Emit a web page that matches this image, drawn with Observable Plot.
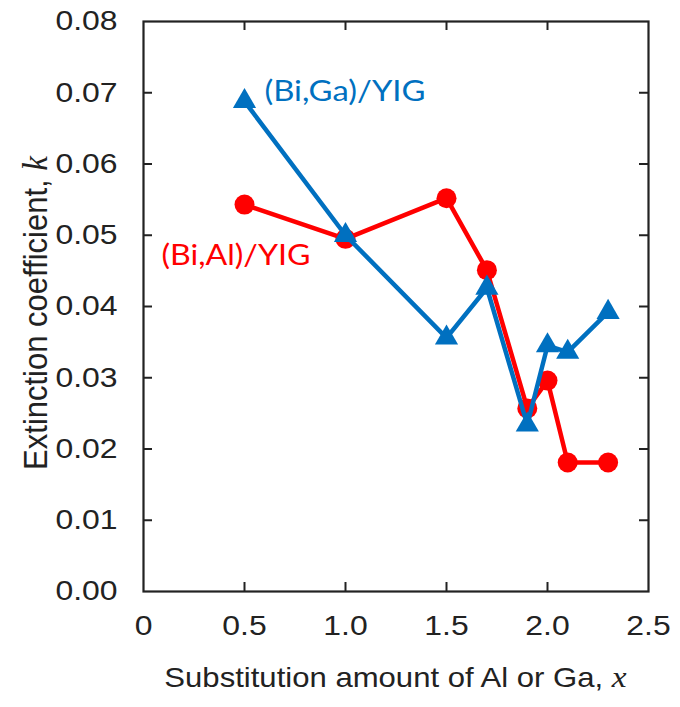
<!DOCTYPE html>
<html>
<head>
<meta charset="utf-8">
<script src="https://cdn.jsdelivr.net/npm/d3@7"></script>
<script src="https://cdn.jsdelivr.net/npm/@observablehq/plot@0.6"></script>
<style>
  body { margin: 0; background: #fff; }
  #chart svg { display: block; background: #fff; }
</style>
</head>
<body>
<div id="chart"></div>
<script>
// Extinction coefficient k of Bi-substituted YIG films vs. Al / Ga substitution amount x
const compositions = [0.5, 1.0, 1.5, 1.7, 1.9, 2.0, 2.1, 2.3];
const kBiAl = [0.0543, 0.0495, 0.0552, 0.0451, 0.0257, 0.0296, 0.0181, 0.0181];
const kBiGa = [0.0688, 0.0500, 0.0356, 0.0426, 0.0234, 0.0345, 0.0336, 0.0392];
const seriesNames = ["(Bi,Al)/YIG", "(Bi,Ga)/YIG"];
const seriesColors = ["#ff0000", "#0070c0"];

const xTicks = [0, 0.5, 1.0, 1.5, 2.0, 2.5];
const xTickLabels = ["0", "0.5", "1.0", "1.5", "2.0", "2.5"];
const yTicks = [0, 0.01, 0.02, 0.03, 0.04, 0.05, 0.06, 0.07, 0.08];
const yTickLabels = ["0.00", "0.01", "0.02", "0.03", "0.04", "0.05", "0.06", "0.07", "0.08"];

const xTitle = "Substitution amount of Al or Ga, ";
const xTitleVar = "x";
const yTitle = "Extinction coefficient, ";
const yTitleVar = "k";

// rows per series
const alRows = compositions.map((x, i) => ({x, k: kBiAl[i]}));
const gaRows = compositions.map((x, i) => ({x, k: kBiGa[i]}));

const W = 680, H = 707;
const mTop = 21, mRight = 32, mBottom = 116, mLeft = 143;
const frameW = W - mLeft - mRight, frameH = H - mTop - mBottom;
const tickLen = 9;
const axisColor = "#222";

const xInner = xTicks.slice(1, -1);
const yInner = yTicks.slice(1, -1);

const xLabelOf = new Map(xTicks.map((t, i) => [t, xTickLabels[i]]));
const yLabelOf = new Map(yTicks.map((t, i) => [t, yTickLabels[i]]));

const seriesLabels = [
  {x: compositions[1], k: kBiAl[1], name: seriesNames[0], color: seriesColors[0]},
  {x: compositions[0], k: kBiGa[0], name: seriesNames[1], color: seriesColors[1]}
];

const plot = Plot.plot({
  width: W,
  height: H,
  marginTop: mTop,
  marginRight: mRight,
  marginBottom: mBottom,
  marginLeft: mLeft,
  style: {fontFamily: "'Liberation Sans', Arial, sans-serif", fontSize: "28px", color: "#222", background: "#fff"},
  x: {domain: [0, 2.5]},
  y: {domain: [0, 0.08]},
  marks: [
    // inward tick marks on all four sides
    Plot.ruleX(xInner, {x: d => d, stroke: axisColor, strokeWidth: 2, insetTop: frameH - tickLen}),
    Plot.ruleX(xInner, {x: d => d, stroke: axisColor, strokeWidth: 2, insetBottom: frameH - tickLen}),
    Plot.ruleY(yInner, {y: d => d, stroke: axisColor, strokeWidth: 2, insetRight: frameW - tickLen}),
    Plot.ruleY(yInner, {y: d => d, stroke: axisColor, strokeWidth: 2, insetLeft: frameW - tickLen}),
    Plot.frame({stroke: axisColor, strokeWidth: 2.2}),

    // (Bi,Al)/YIG
    Plot.line(alRows, {x: "x", y: "k", stroke: seriesColors[0], strokeWidth: 4.5}),
    Plot.dot(alRows, {x: "x", y: "k", r: 10, fill: seriesColors[0], symbol: "circle"}),

    // (Bi,Ga)/YIG
    Plot.line(gaRows, {x: "x", y: "k", stroke: seriesColors[1], strokeWidth: 4.5}),
    Plot.dot(gaRows, {x: "x", y: "k", r: 8.6, fill: seriesColors[1], symbol: "triangle"}),

    // series names
    Plot.text([seriesLabels[0]], {
      x: "x", y: "k", text: "name", fill: "color", textAnchor: "end",
      dx: -35, dy: 17, fontSize: 28, fontFamily: "Lato, 'Open Sans', sans-serif", className: "series-name al"
    }),
    Plot.text([seriesLabels[1]], {
      x: "x", y: "k", text: "name", fill: "color", textAnchor: "start",
      dx: 20, dy: -9, fontSize: 28, fontFamily: "Lato, 'Open Sans', sans-serif", className: "series-name ga"
    }),

    Plot.axisX({ticks: xTicks, tickSize: 0, tickPadding: 24, tickFormat: d => xLabelOf.get(d), label: null, fill: "#222"}),
    Plot.axisY({ticks: yTicks, tickSize: 0, tickPadding: 26, tickFormat: d => yLabelOf.get(d), label: null, fill: "#222"})
  ]
});

document.getElementById("chart").append(plot);

const svg = d3.select(plot);

// the lettering is set slightly wide
function widen(sel, f) {
  sel.each(function() {
    const len = this.getComputedTextLength();
    this.setAttribute("textLength", len * f);
    this.setAttribute("lengthAdjust", "spacingAndGlyphs");
  });
}
widen(svg.selectAll('g[aria-label="x-axis tick label"] text'), 1.14);
widen(svg.selectAll('g[aria-label="y-axis tick label"] text'), 1.14);

function setWidth(sel, w) {
  sel.each(function() {
    this.setAttribute("textLength", w);
    this.setAttribute("lengthAdjust", "spacingAndGlyphs");
  });
}
setWidth(svg.selectAll(".al text"), 149);
setWidth(svg.selectAll(".ga text"), 161);

// axis titles with an italic variable symbol
const xr = plot.scale("x").range;
const yr = plot.scale("y").range;

const xt = svg.append("text")
  .attr("x", (xr[0] + xr[1]) / 2)
  .attr("y", H - 20)
  .attr("text-anchor", "middle")
  .attr("fill", "#222")
  .style("font-family", "'Liberation Sans', Arial, sans-serif")
  .style("font-size", "28px");
xt.append("tspan").text(xTitle);
xt.append("tspan").text(xTitleVar)
  .style("font-family", "'Liberation Serif', 'DejaVu Serif', serif")
  .style("font-style", "italic")
  .style("font-size", "30px");
widen(xt, 1.11);

const yt = svg.append("text")
  .attr("transform", `translate(35,${(yr[0] + yr[1]) / 2 + 7}) rotate(-90) scale(1,1.08)`)
  .attr("text-anchor", "middle")
  .attr("dy", "0.35em")
  .attr("fill", "#222")
  .style("font-family", "'Liberation Sans', Arial, sans-serif")
  .style("font-size", "31px");
yt.append("tspan").text(yTitle);
yt.append("tspan").text(yTitleVar)
  .style("font-family", "'Liberation Serif', 'DejaVu Serif', serif")
  .style("font-style", "italic")
  .style("font-size", "33px");
</script>
</body>
</html>
